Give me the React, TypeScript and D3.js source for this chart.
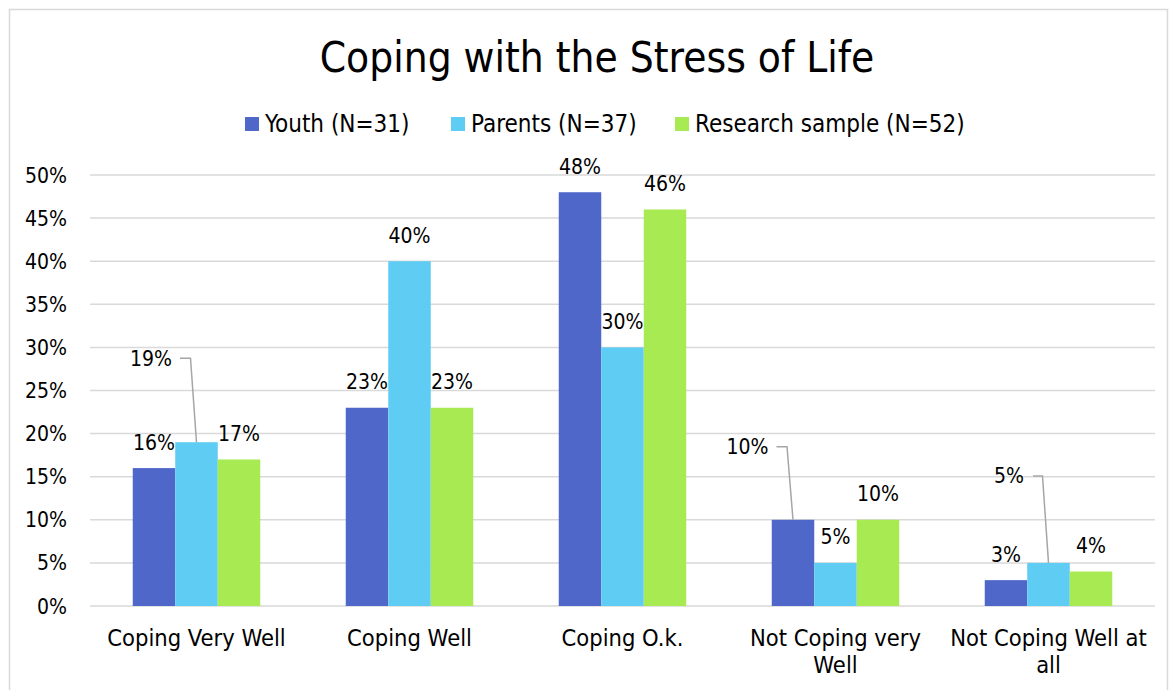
import React from "react";
import * as d3 from "d3";

const categories = [
  ["Coping Very Well"],
  ["Coping Well"],
  ["Coping O.k."],
  ["Not Coping very", "Well"],
  ["Not Coping Well at", "all"],
];
const seriesNames = ["Youth (N=31)", "Parents (N=37)", "Research sample (N=52)"];
const youth = [16, 23, 48, 10, 3];
const parents = [19, 40, 30, 5, 5];
const research = [17, 23, 46, 10, 4];
const yTicks = [0, 5, 10, 15, 20, 25, 30, 35, 40, 45, 50];
const colors = ["#4F67C9", "#5FCDF3", "#A8EA52"];

// labels pulled away from their bars with a leader line
const callouts: { [key: string]: { dx: number; dy: number } } = {
  "1-0": { dx: -45.5, dy: -84 },
  "0-3": { dx: -45.5, dy: -73 },
  "1-4": { dx: -39.5, dy: -87 },
};

const W = 1172;
const H = 690;
const margin = { top: 175, right: 17, bottom: 84, left: 90 };
const font = "'DejaVu Sans Condensed', 'DejaVu Sans', sans-serif";

const App: React.FC = () => {
  const series = [youth, parents, research];
  const x0 = d3
    .scaleBand<number>()
    .domain(categories.map((_, i) => i))
    .range([margin.left, W - margin.right])
    .paddingInner(0.4014)
    .paddingOuter(0.2007);
  const x1 = d3
    .scaleBand<number>()
    .domain(series.map((_, i) => i))
    .range([0, x0.bandwidth()]);
  const y = d3
    .scaleLinear()
    .domain([0, 50])
    .range([H - margin.bottom, margin.top]);
  const y0 = y(0);

  const legendX = [245, 451, 675];

  return (
    <svg
      width={W}
      height={H}
      style={{ position: "absolute", left: 0, top: 0, fontFamily: font }}
    >
      <rect x={0} y={0} width={W} height={H} fill="#fff" />
      <rect
        x={9.5}
        y={9.5}
        width={1158}
        height={720}
        fill="#fff"
        stroke="#d9d9d9"
        strokeWidth={1.5}
      />
      <text x={597} y={72} textAnchor="middle" fontSize={42} fill="#000">
        Coping with the Stress of Life
      </text>
      {seriesNames.map((s, i) => (
        <g key={s} transform={`translate(${legendX[i]},117)`}>
          <rect width={14} height={14} fill={colors[i]} />
          <text x={20} y={15} fontSize={24} fill="#000">
            {s}
          </text>
        </g>
      ))}
      {yTicks.map((t) => (
        <g key={t}>
          <line
            x1={margin.left}
            x2={W - margin.right}
            y1={y(t)}
            y2={y(t)}
            stroke="#d9d9d9"
            strokeWidth={1.5}
          />
          <text
            x={67}
            y={y(t) + 7.5}
            textAnchor="end"
            fontSize={21}
            fill="#000"
          >
            {t}%
          </text>
        </g>
      ))}
      {categories.map((lines, ci) => (
        <g key={ci}>
          {series.map((vals, si) => {
            const bx = (x0(ci) || 0) + (x1(si) || 0);
            const bw = x1.bandwidth();
            const top = y(vals[ci]);
            const cx = bx + bw / 2;
            const co = callouts[`${si}-${ci}`];
            const label = `${vals[ci]}%`;
            return (
              <g key={si}>
                <rect
                  x={bx}
                  y={top}
                  width={bw}
                  height={y0 - top}
                  fill={colors[si]}
                />
                {co ? (
                  <>
                    <polyline
                      points={`${cx + co.dx + (label.length > 2 ? 29 : 24)},${
                        top + co.dy
                      } ${cx - 6},${top + co.dy} ${cx},${top}`}
                      fill="none"
                      stroke="#a6a6a6"
                      strokeWidth={1.5}
                    />
                    <text
                      x={cx + co.dx}
                      y={top + co.dy + 7.5}
                      textAnchor="middle"
                      fontSize={21}
                      fill="#000"
                    >
                      {label}
                    </text>
                  </>
                ) : (
                  <text
                    x={cx}
                    y={top - 18.5}
                    textAnchor="middle"
                    fontSize={21}
                    fill="#000"
                  >
                    {label}
                  </text>
                )}
              </g>
            );
          })}
          {lines.map((l, li) => (
            <text
              key={li}
              x={(x0(ci) || 0) + x0.bandwidth() / 2}
              y={646 + li * 27}
              textAnchor="middle"
              fontSize={23.5}
              fill="#000"
            >
              {l}
            </text>
          ))}
        </g>
      ))}
    </svg>
  );
};

export default App;
